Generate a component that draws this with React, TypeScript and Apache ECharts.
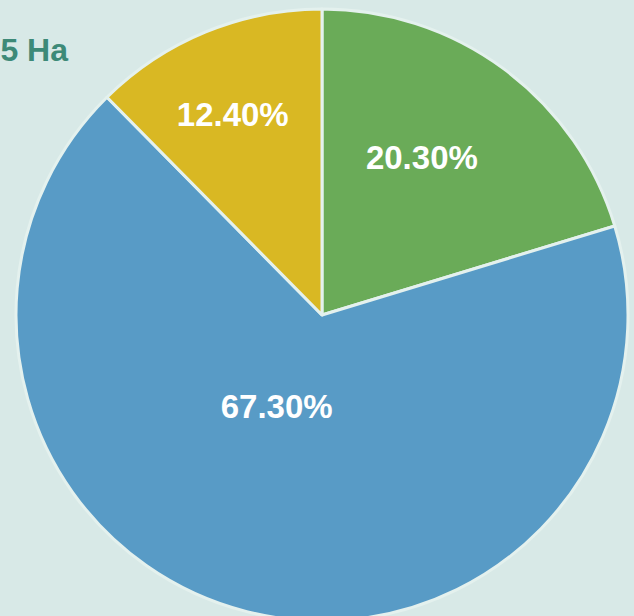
import React, { useEffect, useRef } from "react";
import * as echarts from "echarts";

const categories = ["Green", "Blue", "Yellow"];
const values = [20.3, 67.3, 12.4];
const colors = ["#6aab58", "#589bc6", "#d9b823"];
const labelOffsets: [number, number][] = [
  [7, -32],
  [-7, -60],
  [-30, -56],
];
const titleText = "5 Ha";

export default function App() {
  const ref = useRef<HTMLDivElement>(null);
  useEffect(() => {
    if (!ref.current) return;
    const chart = echarts.init(ref.current, undefined, { renderer: "svg" });
    chart.setOption({
      animation: false,
      backgroundColor: "#d8e9e7",
      graphic: [
        {
          type: "text",
          x: 68,
          y: 66,
          style: {
            text: titleText,
            fill: "#3d8a78",
            font: "bold 32px 'Liberation Sans', Arial, sans-serif",
            textAlign: "right",
            textVerticalAlign: "bottom",
          },
        },
      ],
      series: [
        {
          type: "pie",
          center: [322, 315],
          radius: [0, 306],
          startAngle: 90,
          clockwise: true,
          itemStyle: { borderColor: "#e4f1ee", borderWidth: 3 },
          label: {
            show: true,
            position: "inside",
            color: "#ffffff",
            fontWeight: "bold",
            fontSize: 33,
            fontFamily: "'Liberation Sans', Arial, sans-serif",
            formatter: (p: any) => Number(p.value).toFixed(2) + "%",
          },
          labelLine: { show: false },
          emphasis: { disabled: true },
          data: categories.map((name, i) => ({
            name,
            value: values[i],
            itemStyle: { color: colors[i] },
            label: { offset: labelOffsets[i] },
          })),
        },
      ],
    });
    return () => chart.dispose();
  }, []);
  return (
    <div
      ref={ref}
      style={{ position: "fixed", left: 0, top: 0, width: 634, height: 616 }}
    />
  );
}
